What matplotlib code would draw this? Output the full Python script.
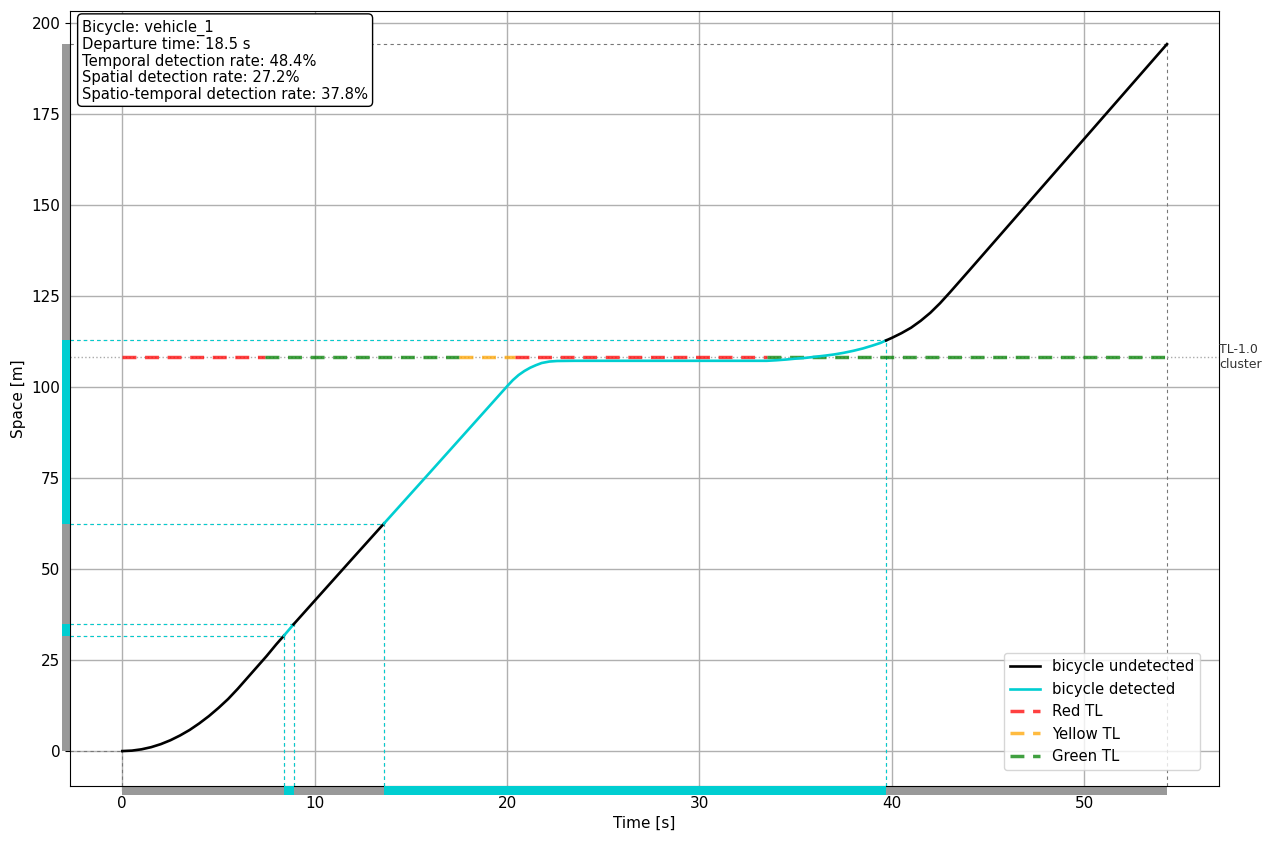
import matplotlib
matplotlib.use("Agg")
import matplotlib.pyplot as plt
from matplotlib.patches import Rectangle
import matplotlib.transforms as mtransforms

# ---------------- data ----------------
# trajectory (time [s], space [m])
traj_t = [0, 0.5, 1, 1.5, 2, 2.5, 3, 3.5, 4, 4.5, 5, 5.5, 6, 6.5, 7, 7.5, 8, 8.4,
          8.9, 10, 12, 13.6,
          16, 18, 20.0, 20.3, 20.6, 20.9, 21.2, 21.5, 21.8, 22.2, 22.6, 23.5, 33.5,
          34.0, 34.5, 35.0, 35.5, 36.0, 36.5, 37.0, 37.5, 38.0, 38.5, 39.0, 39.4, 39.7,
          40.0, 40.5, 41.0, 41.5, 42.0, 42.5, 43.0, 43.5, 44.0, 54.3]
traj_y = [0, 0.12, 0.48, 1.07, 1.9, 2.97, 4.28, 5.8, 7.6, 9.6, 11.85, 14.3, 17.1, 20.1, 23.1, 26.1, 29.3, 31.7,
          34.8, 41.3, 53.1, 62.5,
          76.6, 88.4, 100.2, 101.9, 103.3, 104.4, 105.3, 106.0, 106.6, 107.0, 107.15, 107.2, 107.2,
          107.35, 107.55, 107.8, 108.0, 108.3, 108.6, 108.95, 109.4, 109.95, 110.6, 111.4, 112.1, 112.8,
          113.5, 114.8, 116.3, 118.2, 120.4, 123.0, 125.9, 128.9, 131.9, 194.2]

# detection status per segment (start time, end time, detected?)
seg_start = [0.0, 8.4, 8.9, 13.6, 39.7]
seg_end = [8.4, 8.9, 13.6, 39.7, 54.3]
seg_detected = [False, True, False, True, False]

# traffic light phases at the TL position
tl_pos = 108.3
tl_start = [0.0, 7.4, 17.5, 20.4, 33.5]
tl_end = [7.4, 17.5, 20.4, 33.5, 54.3]
tl_state = ["red", "green", "yellow", "red", "green"]
tl_label = "TL-1.0\ncluster"

info_lines = ["Bicycle: vehicle_1",
              "Departure time: 18.5 s",
              "Temporal detection rate: 48.4%",
              "Spatial detection rate: 27.2%",
              "Spatio-temporal detection rate: 37.8%"]

# ---------------- style ----------------
C_UND = "black"
C_DET = "#00CED1"
C_BAR = "#999999"
TL_COLORS = {"red": "red", "yellow": "orange", "green": "green"}
TL_NAMES = {"red": "Red TL", "yellow": "Yellow TL", "green": "Green TL"}

fig = plt.figure(figsize=(12.7, 8.43), dpi=100)
ax = fig.add_axes([0.0551, 0.0676, 0.9047, 0.9194])
xlim = (-2.72, 57.0)
ylim = (-9.6, 203.3)
ax.set_xlim(*xlim)
ax.set_ylim(*ylim)
ax.grid(True, color="#b0b0b0", linewidth=1.0)
ax.set_axisbelow(True)


def y_at(t):
    # value at a recorded time
    return traj_y[traj_t.index(t)]


# gray boundary lines first, cyan boundaries on top
for det in (False, True):
    for s, e, d in zip(seg_start, seg_end, seg_detected):
        if d != det:
            continue
        col = C_DET if d else "#777777"
        for tb in (s, e):
            yb = y_at(tb)
            ax.plot([tb, tb], [ylim[0], yb], ls=(0, (3, 3)), lw=0.8, color=col, zorder=2)
            ax.plot([xlim[0], tb], [yb, yb], ls=(0, (3, 3)), lw=0.8, color=col, zorder=2)

# TL reference dotted line
ax.axhline(tl_pos, color="#aaaaaa", ls=":", lw=1.0, zorder=2)
ax.text(1.0, tl_pos, tl_label, transform=mtransforms.blended_transform_factory(ax.transAxes, ax.transData),
        ha="left", va="center", fontsize=9, color="#333333", clip_on=False)

# TL phase lines
seen = set()
for s, e, st in zip(tl_start, tl_end, tl_state):
    lab = TL_NAMES[st] if st not in seen else None
    seen.add(st)
    ax.plot([s, e], [tl_pos, tl_pos], ls=(0, (4, 2.5)), lw=2.5, color=TL_COLORS[st], alpha=0.75,
            label=lab, zorder=3)

# trajectory segments
und_done = det_done = False
for s, e, d in zip(seg_start, seg_end, seg_detected):
    i0 = traj_t.index(s)
    i1 = traj_t.index(e)
    lab = None
    if d and not det_done:
        lab = "bicycle detected"; det_done = True
    if (not d) and not und_done:
        lab = "bicycle undetected"; und_done = True
    ax.plot(traj_t[i0:i1 + 1], traj_y[i0:i1 + 1], color=C_DET if d else C_UND, lw=1.9,
            label=lab, zorder=4)

# bottom (time) and left (space) coverage bars outside axes
trb = mtransforms.blended_transform_factory(ax.transData, ax.transAxes)
trl = mtransforms.blended_transform_factory(ax.transAxes, ax.transData)
bh = 0.0116
bw = 0.0072
ax.add_patch(Rectangle((seg_start[0], -bh), seg_end[-1] - seg_start[0], bh, transform=trb,
                       color=C_BAR, clip_on=False, lw=0))
y_first, y_last = y_at(seg_start[0]), y_at(seg_end[-1])
ax.add_patch(Rectangle((-bw, y_first), bw, y_last - y_first, transform=trl,
                       color=C_BAR, clip_on=False, lw=0))
for s, e, d in zip(seg_start, seg_end, seg_detected):
    if d:
        ax.add_patch(Rectangle((s, -bh), e - s, bh, transform=trb, color=C_DET, clip_on=False, lw=0, zorder=5))
        ys, ye = y_at(s), y_at(e)
        ax.add_patch(Rectangle((-bw, ys), bw, ye - ys, transform=trl, color=C_DET, clip_on=False, lw=0, zorder=5))

# info box
ax.text(0.0105, 0.989, "\n".join(info_lines), transform=ax.transAxes, ha="left", va="top",
        fontsize=10.6, linespacing=1.13,
        bbox=dict(boxstyle="round,pad=0.3", fc="white", ec="black", lw=1.0), zorder=10)

ax.set_xlabel("Time [s]", fontsize=11)
ax.set_ylabel("Space [m]", fontsize=11)
ax.tick_params(labelsize=11)

h, l = ax.get_legend_handles_labels()
order = ["bicycle undetected", "bicycle detected", "Red TL", "Yellow TL", "Green TL"]
hd = dict(zip(l, h))
ax.legend([hd[k] for k in order], order, loc="lower right", bbox_to_anchor=(0.9835, 0.0206),
          borderaxespad=0, fontsize=10.7)

fig.savefig("out.png", dpi=100)
